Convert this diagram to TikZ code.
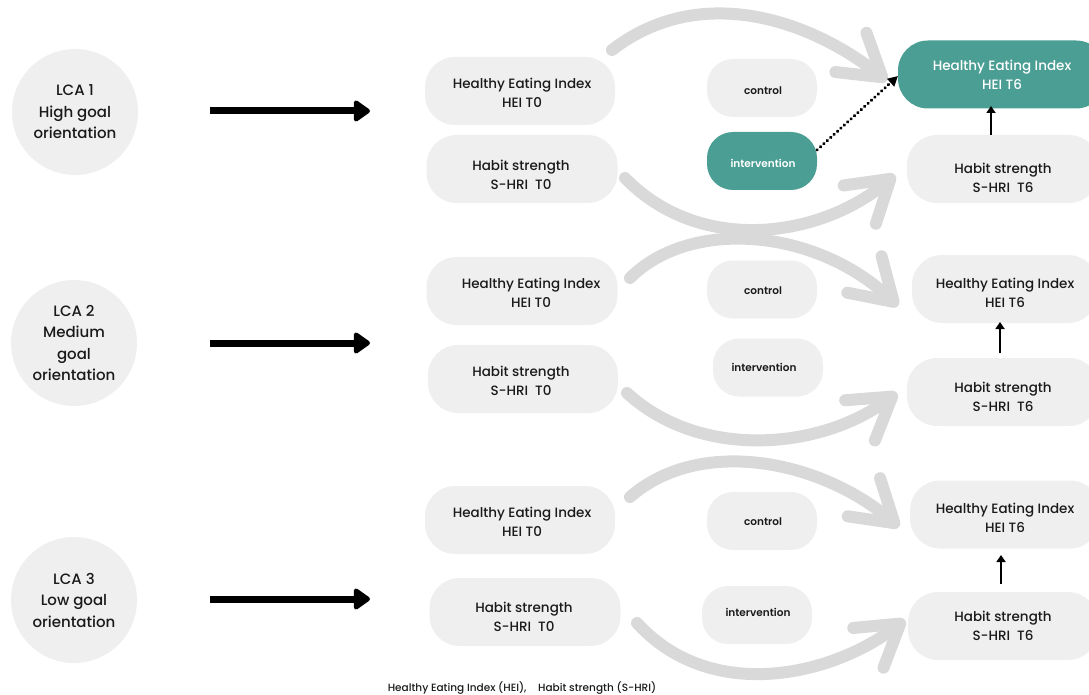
\documentclass[tikz,border=0pt]{standalone}
\usepackage{fontspec}
\setmainfont{Poppins}[UprightFont=* Medium, BoldFont=* SemiBold]
\usetikzlibrary{arrows.meta}
\definecolor{pillgray}{HTML}{EFEFEF}
\definecolor{curvegray}{HTML}{D9D9D9}
\definecolor{tealc}{HTML}{4B9E94}
\definecolor{txt}{HTML}{1A1A1A}
\begin{document}
\begin{tikzpicture}[x=1pt,y=-1pt,
  lca/.style={circle, fill=pillgray, minimum size=126pt, inner sep=0pt, align=center, text=txt, font=\fontsize{15}{21.5}\selectfont},
  pill/.style={rectangle, rounded corners=30pt, fill=pillgray, minimum height=68pt, inner sep=0pt},
  ptext/.style={align=center, inner sep=0pt, text=txt, font=\fontsize{13.5}{18.8}\selectfont},
  tag/.style={rectangle, rounded corners=26pt, fill=pillgray, minimum width=110pt, minimum height=58pt, inner sep=0pt},
  ttext/.style={inner sep=0pt, text=txt, font=\bfseries\fontsize{10.5}{12}\selectfont},
  hl/.style={fill=tealc},
  wtext/.style={text=white},
  curve/.style={draw=curvegray, line width=12pt, line cap=round, -{Straight Barb[length=40pt,width=50pt,round]}},
  bigarrow/.style={draw=black, line width=7pt, -{Triangle[length=18pt,width=24pt,round]}},
  uparrow/.style={draw=black, line width=2.4pt, -{Triangle[length=7pt,width=9pt]}},
  dotline/.style={draw=black, line width=3.2pt, line cap=round, dash pattern=on 0.4pt off 4.2pt, -{Triangle[length=10pt,width=10pt]}}
]
\useasboundingbox (0,0) rectangle (1089,695);
\clip (0,0) rectangle (1089,695);

% curved grey arrows (behind)
\coordinate (r1a) at (612,50);  \coordinate (r1b) at (887,81);
\coordinate (r1c) at (625,178); \coordinate (r1d) at (895,175);
\coordinate (r2a) at (630,278); \coordinate (r2b) at (898,306);
\coordinate (r2c) at (627,393); \coordinate (r2d) at (897,393);
\coordinate (r3a) at (630,497); \coordinate (r3b) at (899,527);
\coordinate (r3c) at (637,623); \coordinate (r3d) at (905,620);
\draw[curve] (r1a) .. controls (700,-18) and (810,20) .. (r1b);
\draw[curve] (r1c) .. controls (700,255) and (820,238) .. (r1d);
\draw[curve] (r2a) .. controls (690,218) and (815,228) .. (r2b);
\draw[curve] (r2c) .. controls (700,460) and (820,450) .. (r2d);
\draw[curve] (r3a) .. controls (700,436) and (820,460) .. (r3b);
\draw[curve] (r3c) .. controls (710,703) and (830,677) .. (r3d);

% LCA circles
\node[lca] (l1) at (75,112) {LCA 1\\High goal\\orientation};
\node[lca] (l2) at (74,343) {LCA 2\\Medium\\goal\\orientation};
\node[lca] (l3) at (74,600) {LCA 3\\Low goal\\orientation};

% black arrows
\coordinate (a1s) at (210,111); \coordinate (a1e) at (370,111);
\coordinate (a2s) at (210,343); \coordinate (a2e) at (370,343);
\coordinate (a3s) at (210,599); \coordinate (a3e) at (370,599);
\draw[bigarrow] (a1s) -- (a1e);
\draw[bigarrow] (a2s) -- (a2e);
\draw[bigarrow] (a3s) -- (a3e);

% left pills
\node[pill, minimum width=190pt] (h1) at (520,91) {};
\node[pill, minimum width=191pt] (s1) at (522,169) {};
\node[pill, minimum width=191pt] (h2) at (522,291) {};
\node[pill, minimum width=190pt] (s2) at (523,379) {};
\node[pill, minimum width=190pt] (h3) at (520,520) {};
\node[pill, minimum width=191pt] (s3) at (525,612) {};
\node[ptext] (h1t) at (522,92.5) {Healthy Eating Index\\HEI T0};
\node[ptext] (s1t) at (521,174.5) {Habit strength\\S-HRI\ \ T0};
\node[ptext] (h2t) at (531,292.5) {Healthy Eating Index\\HEI T0};
\node[ptext] (s2t) at (521,380.5) {Habit strength\\S-HRI\ \ T0};
\node[ptext] (h3t) at (522,522) {Healthy Eating Index\\HEI T0};
\node[ptext] (s3t) at (524,616.5) {Habit strength\\S-HRI\ \ T0};

% control / intervention
\node[tag] (c1) at (762,88) {};
\node[tag, hl] (i1) at (762,161) {};
\node[tag] (c2) at (762,289.5) {};
\node[tag] (i2) at (768,367.5) {};
\node[tag] (c3) at (762,521) {};
\node[tag] (i3) at (757,615) {};
\node[ttext] (c1t) at (763,91) {control};
\node[ttext, wtext] (i1t) at (763,163) {intervention};
\node[ttext] (c2t) at (763,291) {control};
\node[ttext] (i2t) at (764,367) {intervention};
\node[ttext] (c3t) at (763,522) {control};
\node[ttext] (i3t) at (758,612) {intervention};

% right pills
\node[pill, hl, minimum width=208pt] (t1) at (1002,74.5) {};
\node[pill, minimum width=192pt] (u1) at (1003,169) {};
\node[pill, minimum width=186pt] (t2) at (1005,289) {};
\node[pill, minimum width=192pt] (u2) at (1003,392) {};
\node[pill, minimum width=190pt] (t3) at (1005,514.5) {};
\node[pill, minimum width=190pt] (u3) at (1003,626) {};
\node[ptext, wtext] (t1t) at (1002,75) {Healthy Eating Index\\HEI T6};
\node[ptext] (u1t) at (1003,177.5) {Habit strength\\S-HRI\ \ T6};
\node[ptext] (t2t) at (1005,292.5) {Healthy Eating Index\\HEI T6};
\node[ptext] (u2t) at (1003,396.5) {Habit strength\\S-HRI\ \ T6};
\node[ptext] (t3t) at (1005,517.5) {Healthy Eating Index\\HEI T6};
\node[ptext] (u3t) at (1003,626) {Habit strength\\S-HRI\ \ T6};

% small up arrows
\coordinate (v1s) at (991,135); \coordinate (v1e) at (991,106);
\coordinate (v2s) at (1000,353); \coordinate (v2e) at (1000,322);
\coordinate (v3s) at (1001,584); \coordinate (v3e) at (1001,555);
\draw[uparrow] (v1s) -- (v1e);
\draw[uparrow] (v2s) -- (v2e);
\draw[uparrow] (v3s) -- (v3e);

% dotted arrow
\coordinate (ds) at (817,150); \coordinate (de) at (898,76);
\draw[dotline] (ds) -- (de);

% caption
\node[text=txt, font=\fontsize{10.5}{12}\selectfont] (cap) at (522,688) {Healthy Eating Index (HEI),\hspace{1.1em}Habit strength (S-HRI)};
\end{tikzpicture}
\end{document}
